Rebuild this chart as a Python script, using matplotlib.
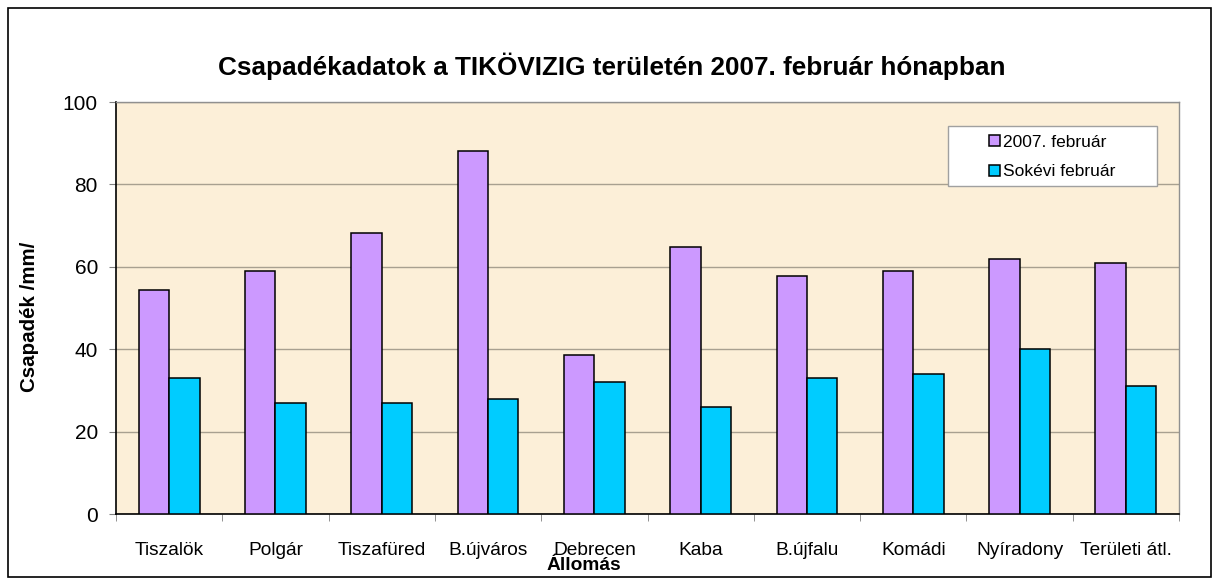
import matplotlib
matplotlib.use("Agg")
import matplotlib.pyplot as plt
import numpy as np
from matplotlib.patches import Rectangle

plt.rcParams['font.family'] = ['Liberation Sans', 'DejaVu Sans']

categories = ["Tiszalök", "Polgár", "Tiszafüred", "B.újváros", "Debrecen",
              "Kaba", "B.újfalu", "Komádi", "Nyíradony", "Területi átl."]
feb_2007 = [54.4, 59.0, 68.3, 88.1, 38.6, 64.9, 57.7, 59.1, 61.8, 61.0]
longterm_feb = [33.0, 27.0, 27.0, 28.0, 32.0, 26.0, 33.0, 34.0, 40.0, 31.0]
series_names = ["2007. február", "Sokévi február"]
title = "Csapadékadatok a TIKÖVIZIG területén 2007. február hónapban"
ylabel = "Csapadék /mm/"
xlabel = "Állomás"
yticks = [0, 20, 40, 60, 80, 100]

W, H = 1219, 583
fig = plt.figure(figsize=(W / 100, H / 100), dpi=100)
fig.patch.set_facecolor("white")

# figure border
fig.add_artist(Rectangle((8 / W, 6 / H), (1211 - 8) / W, (577 - 8) / H,
                         transform=fig.transFigure, fill=False,
                         edgecolor="black", linewidth=1.2))

left, right, top, bottom = 116, 1179, 102, 514
ax = fig.add_axes([left / W, 1 - bottom / H, (right - left) / W, (bottom - top) / H])
ax.set_facecolor("#FCEFD8")

x = np.arange(len(categories))
bw = 1 / 3.5
ax.bar(x - bw / 2, feb_2007, bw, color="#CC99FF", edgecolor="black",
       linewidth=1.1, label=series_names[0], zorder=3)
ax.bar(x + bw / 2, longterm_feb, bw, color="#00CCFF", edgecolor="black",
       linewidth=1.1, label=series_names[1], zorder=3)

ax.set_xlim(-0.5, len(categories) - 0.5)
ax.set_ylim(0, 100)
ax.set_yticks(yticks)
ax.yaxis.grid(True, color="#A8A090", linewidth=1.0, zorder=1)
ax.set_axisbelow(True)

ax.set_xticks(x)
ax.set_xticklabels(categories, fontsize=13.8)
ax.tick_params(axis="x", which="major", length=0, pad=20)
ax.set_xticks(np.arange(-0.5, len(categories)), minor=True)
ax.tick_params(axis="x", which="minor", length=5, color="#808080", direction="out")
ax.tick_params(axis="y", labelsize=15, length=5, pad=8, color="#808080")

for s in ["top", "right"]:
    ax.spines[s].set_color("#909090")
    ax.spines[s].set_linewidth(1.0)
for s in ["left", "bottom"]:
    ax.spines[s].set_color("black")
    ax.spines[s].set_linewidth(1.2)

fig.text(612 / W, 1 - 75 / H, title, ha="center", va="baseline",
         fontsize=18.8, fontweight="bold")
fig.text(30 / W, 1 - 317 / H, ylabel, ha="center", va="center",
         rotation=90, fontsize=14.8, fontweight="bold")
fig.text(584 / W, 1 - 565 / H, xlabel, ha="center", va="center",
         fontsize=13.8, fontweight="bold")

# legend frame (Excel-style, wider than its entries)
lx0, lx1, ly0, ly1 = 948, 1157, 126, 186
ax.add_patch(Rectangle((lx0 / W, 1 - ly1 / H), (lx1 - lx0) / W, (ly1 - ly0) / H,
                       transform=fig.transFigure, clip_on=False,
                       facecolor="white", edgecolor="#A0A0A0",
                       linewidth=1.0, zorder=4))
leg = ax.legend(loc="center",
                bbox_to_anchor=(((lx0 + lx1) / 2 - left) / (right - left),
                                (bottom - (ly0 + ly1) / 2 - 1) / (bottom - top)),
                frameon=False, fontsize=12.5,
                handlelength=0.6, handleheight=0.6, handletextpad=0.2,
                borderpad=0.2, labelspacing=0.85, borderaxespad=0)
leg.set_zorder(5)

fig.savefig("out.png", dpi=100)
